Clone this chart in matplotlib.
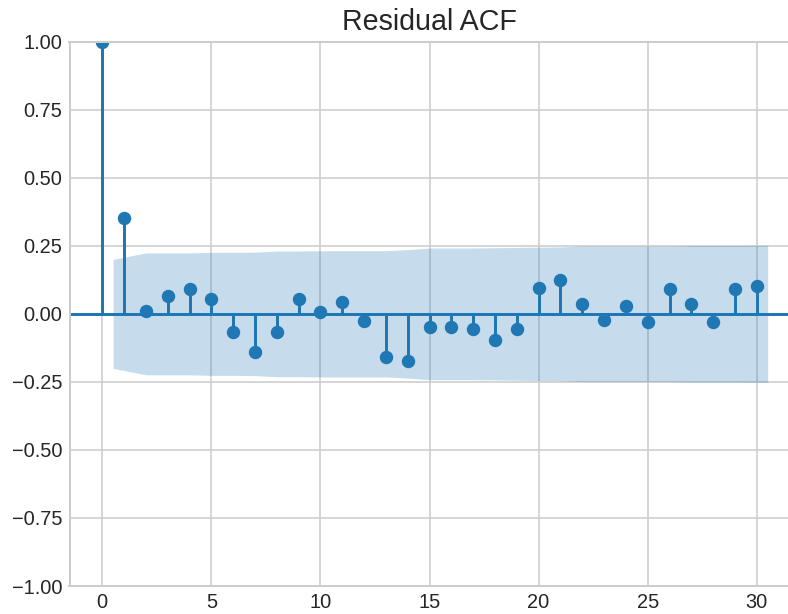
import numpy as np
import matplotlib
matplotlib.use("Agg")
import matplotlib.pyplot as plt

# Data
lags = list(range(0, 31))
acf_values = [1.000, 0.352, 0.010, 0.065, 0.092, 0.055, -0.066, -0.142, -0.065, 0.055,
              0.006, 0.044, -0.027, -0.157, -0.174, -0.049, -0.047, -0.056, -0.096, -0.056,
              0.094, 0.123, 0.035, -0.022, 0.030, -0.029, 0.090, 0.036, -0.029, 0.090, 0.101]
# half-width of confidence band for lags 1..30
band_half = [0.200, 0.224, 0.224, 0.224, 0.226, 0.226, 0.227, 0.231, 0.231, 0.232,
             0.232, 0.232, 0.232, 0.236, 0.242, 0.242, 0.242, 0.243, 0.244, 0.245,
             0.246, 0.249, 0.249, 0.249, 0.249, 0.249, 0.251, 0.251, 0.251, 0.252]
title = "Residual ACF"
yticks = [-1.00, -0.75, -0.50, -0.25, 0.00, 0.25, 0.50, 0.75, 1.00]
xticks = [0, 5, 10, 15, 20, 25, 30]

plt.style.use("seaborn-v0_8-whitegrid")
plt.rcParams['font.family'] = ['Liberation Sans', 'DejaVu Sans']

fig = plt.figure(figsize=(788 / 144, 614 / 144), dpi=144)
ax = fig.add_axes([69.5 / 788, 28 / 614, 720 / 788, 544.3 / 614])

c0 = "#1f77b4"
x = np.array(lags, dtype=float)
y = np.array(acf_values)

ax.vlines(x, 0, y, color=c0, linewidth=1.5)
ax.axhline(0, color=c0, linewidth=1.5)
ax.plot(x, y, marker="o", markersize=5.7, linestyle="None", color=c0)

bx = x[1:].copy()
bx[0] -= 0.5
bx[-1] += 0.5
bh = np.array(band_half)
ax.fill_between(bx, -bh, bh, color=c0, alpha=0.25, linewidth=0)

span = x.max() - x.min()
ax.set_xlim(x.min() - 0.05 * span, x.max() + 0.05 * span)
ax.set_ylim(-1, 1)
ax.set_yticks(yticks)
ax.set_yticklabels([f"{v:.2f}".replace("-", "\u2212") for v in yticks])
ax.set_xticks(xticks)
ax.tick_params(labelsize=10, colors="0.15")
ax.set_title(title, fontsize=14.3, color="0.15")
for s in ax.spines.values():
    s.set_color("0.8")

fig.savefig("out.png", dpi=144)
